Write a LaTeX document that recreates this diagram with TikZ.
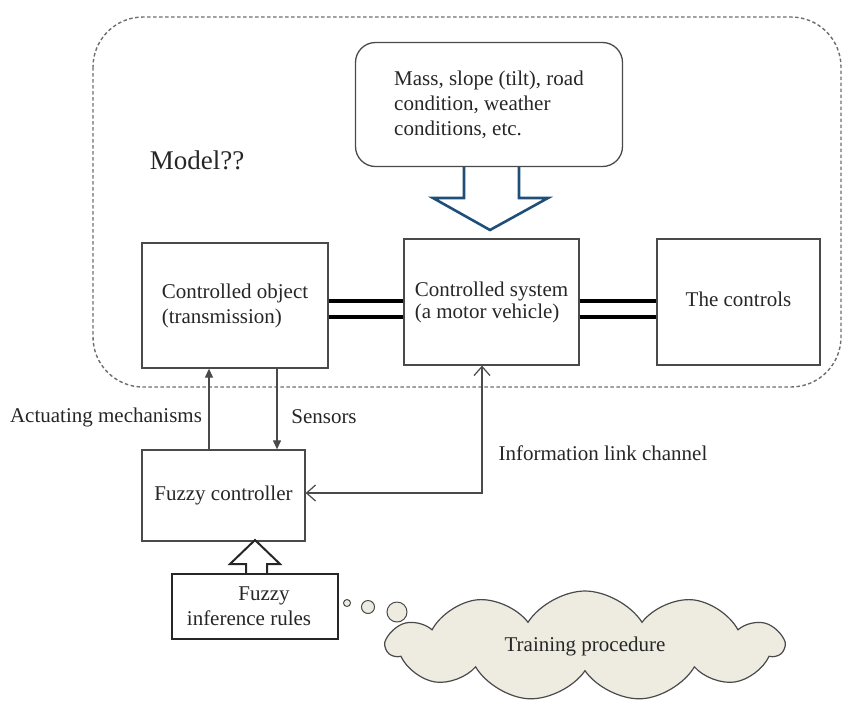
\documentclass[tikz,border=0pt]{standalone}
\usepackage{fontspec}
\setmainfont{Liberation Serif}
\usetikzlibrary{arrows.meta,shapes.symbols,calc}
\definecolor{boxgray}{HTML}{4A4A4A}
\definecolor{dashgray}{HTML}{6E6E6E}
\definecolor{hollowblue}{HTML}{1F4E79}
\definecolor{cloudfill}{HTML}{EEECE1}
\definecolor{txtcol}{HTML}{262626}
\begin{document}
\begin{tikzpicture}[x=1pt,y=-1pt,
  every node/.style={text=txtcol},
  txt/.style={font=\fontsize{21}{25}\selectfont},
  box/.style={draw=boxgray,line width=1.3pt,rectangle,inner sep=0pt,txt},
  frame/.style={draw=dashgray,line width=1.4pt,dash pattern=on 3.5pt off 2.5pt,rounded corners=50pt},
  dbl/.style={draw=black,line width=4pt},
  thin/.style={draw=boxgray,line width=1.2pt},
  bluehollow/.style={draw=hollowblue,line width=2.6pt,line join=miter},
  blackhollow/.style={draw=black!85,line width=2pt,line join=miter},
  bubble/.style={circle,draw=boxgray,line width=1pt,fill=cloudfill,inner sep=0pt}]
\useasboundingbox (0,0) rectangle (843,705);

% dashed model frame
\draw[frame] (93,17) rectangle (841,387);
\node[font=\fontsize{27}{30}\selectfont] (model) at (197,160) {Model??};

% boxes
\node[box,rounded corners=20pt,minimum width=267pt,minimum height=124pt,align=left] (mass) at (489,104.5)
  {Mass, slope (tilt), road\\condition, weather\\conditions, etc.};
\node[box,minimum width=186pt,minimum height=125pt,align=left] (obj) at (235,305.5)
  {Controlled object\\(transmission)};
\node[box,minimum width=175pt,minimum height=126pt,align=left] (sys) at (491.5,302)
  {\raisebox{4pt}{\shortstack[l]{Controlled system\\(a motor vehicle)}}};
\node[box,minimum width=163pt,minimum height=126pt] (ctl) at (738.5,302)
  {\raisebox{5pt}{The controls}};
\node[box,minimum width=163pt,minimum height=91pt] (fuzzy) at (223.5,495.5)
  {Fuzzy controller};
\node[box,line width=2pt,draw=black!85,minimum width=166pt,minimum height=65pt,align=center] (rules) at (255,606.5)
  {\hspace*{18pt}Fuzzy\\inference rules\hspace*{12pt}};

% hollow arrows
\draw[bluehollow] (464,167) -- (464,198) -- (433,198) -- (490,230) -- (548,198) -- (519,198) -- (519,167);
\draw[blackhollow] (246,574) -- (246,564) -- (230,564) -- (255,540) -- (280,564) -- (267,564) -- (267,574);

% double links
\draw[dbl] ($(obj.east)+(0,-4.5)$) -- ($(sys.west)+(0,-1)$);
\draw[dbl] ($(obj.east)+(0,11.5)$) -- ($(sys.west)+(0,15)$);
\draw[dbl] ($(sys.east)+(0,-1)$) -- ($(ctl.west)+(0,-1)$);
\draw[dbl] ($(sys.east)+(0,15)$) -- ($(ctl.west)+(0,15)$);

% signal arrows
\draw[thin,-{Triangle[length=9pt,width=8pt]}] ($(fuzzy.north)+(-14.5,0)$) -- ($(obj.south)+(-26,0)$);
\draw[thin,-{Triangle[length=9pt,width=8pt]}] ($(obj.south)+(42,0)$) -- ($(fuzzy.north)+(53.5,0)$);
\draw[thin,{Straight Barb[length=9pt,width=16pt]}-{Straight Barb[length=9pt,width=16pt]}]
  ($(sys.south)+(-9.5,0)$) |- ($(fuzzy.east)+(0,-2.5)$);

% labels
\node[txt] (act) at (106,417) {Actuating mechanisms};
\node[txt] (sens) at (324,417) {Sensors};
\node[txt,anchor=west] (info) at (495,453) {Information link channel};

% thought bubbles and cloud
\node[bubble,minimum size=7pt] (b1) at (347,603) {};
\node[bubble,minimum size=13pt] (b2) at (368,607) {};
\node[bubble,minimum size=20pt] (b3) at (397,612) {};
\node[cloud,cloud puffs=11,cloud puff arc=115,aspect=3.6,draw=boxgray,line width=1.2pt,fill=cloudfill,
  minimum width=396pt,minimum height=110pt,inner sep=0pt,txt] (cloud) at (585,646) {Training procedure};
\end{tikzpicture}
\end{document}
